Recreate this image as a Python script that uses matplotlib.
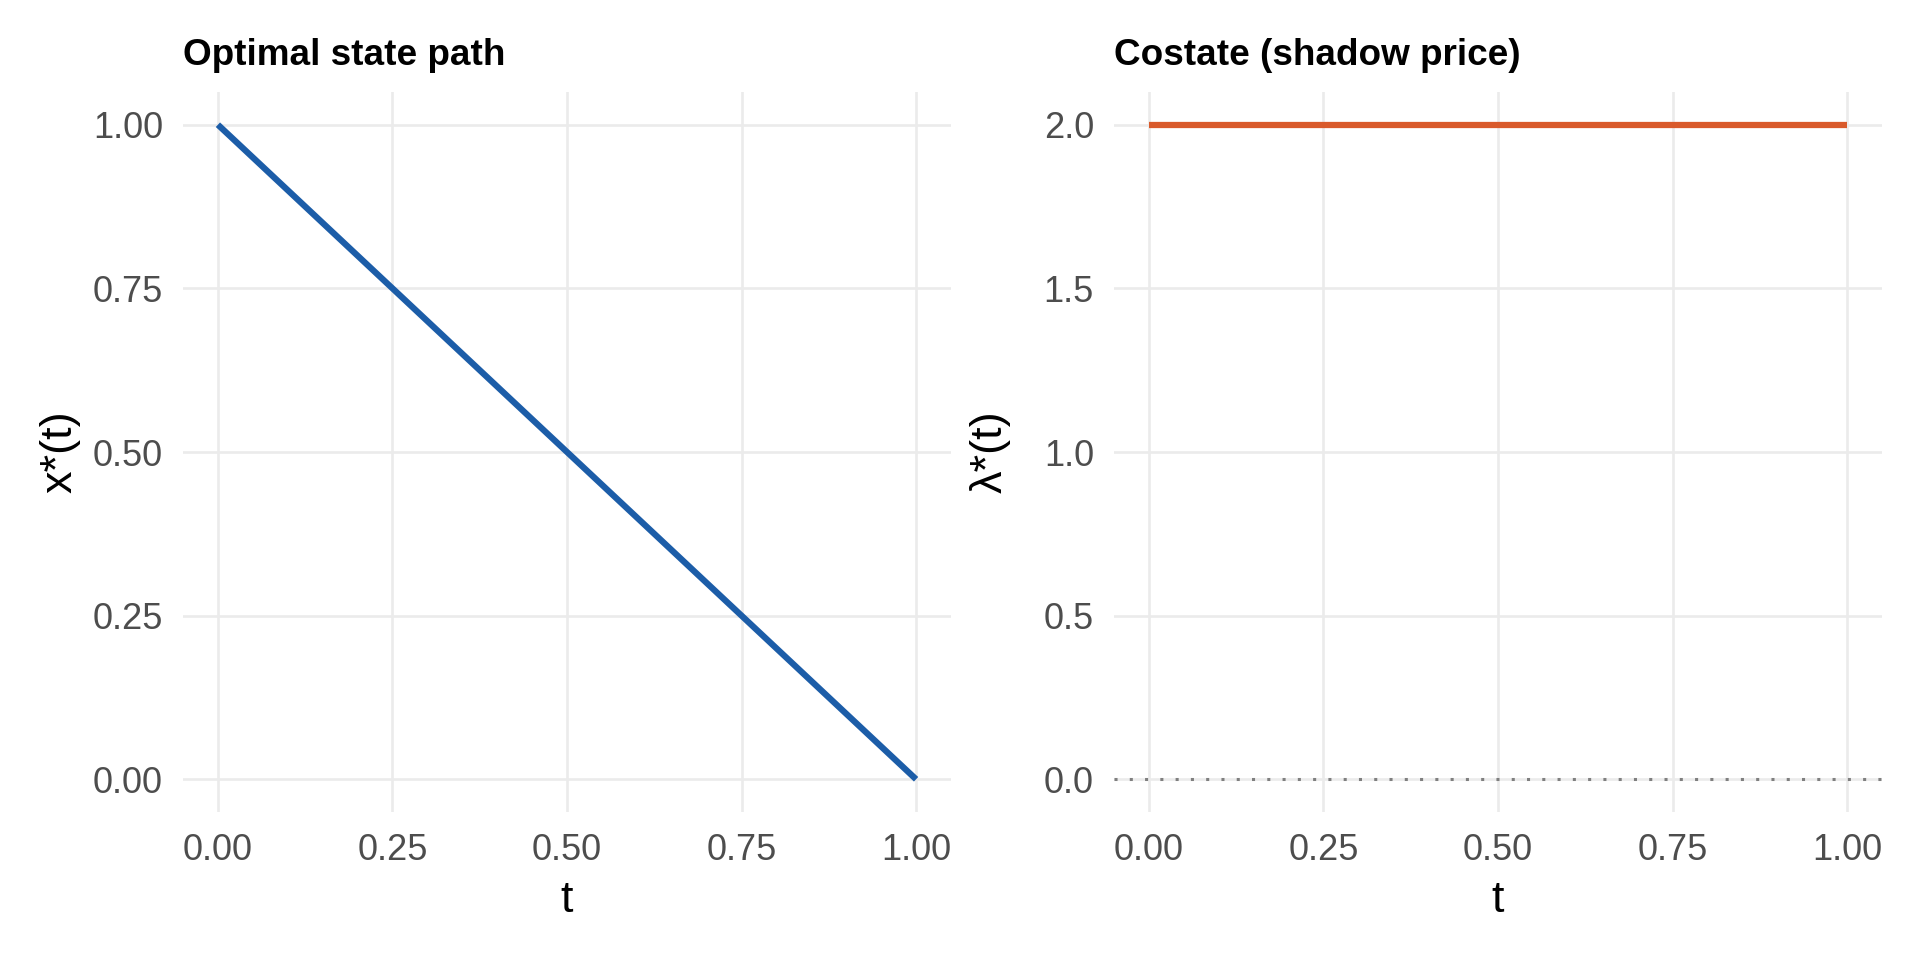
import numpy as np
import matplotlib
matplotlib.use('Agg')
from matplotlib import pyplot as plt

plt.rcParams['font.family'] = ['Liberation Sans', 'DejaVu Sans']

# data
t = [0.0, 0.25, 0.5, 0.75, 1.0]
x_star = [1.0, 0.75, 0.5, 0.25, 0.0]
lam_star = [2.0, 2.0, 2.0, 2.0, 2.0]

x_ticks = [0.0, 0.25, 0.5, 0.75, 1.0]
x_ticklabels = ['0.00', '0.25', '0.50', '0.75', '1.00']
y1_ticks = [0.0, 0.25, 0.5, 0.75, 1.0]
y1_ticklabels = ['0.00', '0.25', '0.50', '0.75', '1.00']
y2_ticks = [0.0, 0.5, 1.0, 1.5, 2.0]
y2_ticklabels = ['0.0', '0.5', '1.0', '1.5', '2.0']

W, H = 1920, 960
fig = plt.figure(figsize=(19.2, 9.6), dpi=100)

def panel(left_px):
    return fig.add_axes([left_px / W, (H - 812) / H, 768 / W, 720 / H])

def style(ax, title, ylabel):
    for s in ax.spines.values():
        s.set_visible(False)
    ax.grid(True, color='#EBEBEB', linewidth=1.9)
    ax.set_axisbelow(True)
    ax.tick_params(length=0, labelsize=26, labelcolor='#4D4D4D')
    ax.tick_params(axis='x', pad=15)
    ax.tick_params(axis='y', pad=14.4)
    ax.set_title(title, loc='left', fontsize=26.6, fontweight='bold', pad=19.5)
    ax.set_xlabel('t', fontsize=32.4, va='baseline')
    ax.xaxis.set_label_coords(0.5, (812 - 912) / 720)
    ax.set_ylabel(ylabel, fontsize=32.4, va='center')
    ax.yaxis.set_label_coords((60 - 183) / 768, 0.5)

ax1 = panel(183)
ax1.plot(t, x_star, color='#1C5DA8', linewidth=4.5, solid_capstyle='butt')
ax1.set_xlim(-0.05, 1.05)
ax1.set_ylim(-0.05, 1.05)
ax1.set_xticks(x_ticks, x_ticklabels)
ax1.set_yticks(y1_ticks, y1_ticklabels)
style(ax1, 'Optimal state path', 'x*(t)')

ax2 = panel(1114)
ax2.axhline(0, color='#7F7F7F', linewidth=2.2, dashes=(1, 4))
ax2.plot(t, lam_star, color='#D95A2B', linewidth=4.5, solid_capstyle='butt')
ax2.set_xlim(-0.05, 1.05)
ax2.set_ylim(-0.1, 2.1)
ax2.set_xticks(x_ticks, x_ticklabels)
ax2.set_yticks(y2_ticks, y2_ticklabels)
style(ax2, 'Costate (shadow price)', 'λ*(t)')
ax2.yaxis.set_label_coords((990 - 1114) / 768, 0.5)

fig.savefig('out.png', dpi=100, facecolor='white')
